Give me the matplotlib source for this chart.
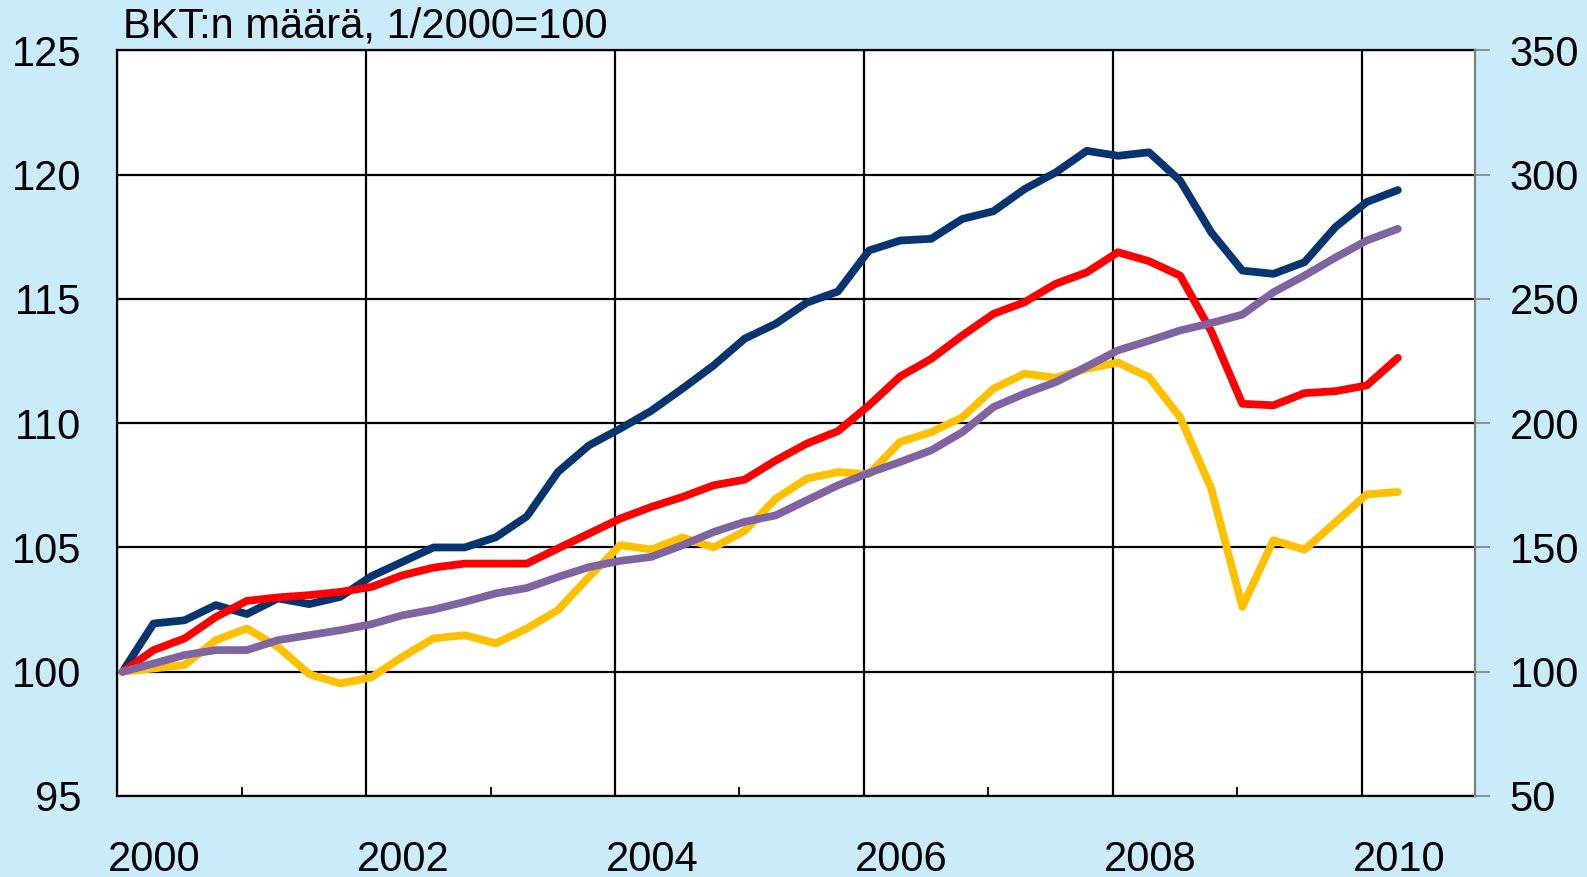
import numpy as np
import matplotlib.pyplot as plt

plt.rcParams["font.family"] = ["Liberation Sans", "DejaVu Sans"]

# quarterly GDP volume index, 1/2000 = 100 (2000Q1 .. 2010Q2)
BLUE = [100.0, 101.94, 102.07, 102.68, 102.32, 102.95, 102.72, 103.01, 103.84, 104.42,
        105.0, 105.0, 105.41, 106.25, 108.04, 109.11, 109.78, 110.5, 111.39, 112.32,
        113.4, 114.0, 114.85, 115.3, 116.95, 117.35, 117.42, 118.22, 118.53, 119.42,
        120.09, 120.96, 120.76, 120.9, 119.76, 117.68, 116.14, 116.01, 116.48, 117.9,
        118.9, 119.38]
RED = [100.0, 100.87, 101.34, 102.2, 102.85, 102.99, 103.08, 103.21, 103.41, 103.88,
       104.19, 104.35, 104.35, 104.35, 104.96, 105.56, 106.16, 106.63, 107.03, 107.5,
       107.73, 108.5, 109.18, 109.68, 110.72, 111.88, 112.59, 113.53, 114.4, 114.87,
       115.61, 116.07, 116.88, 116.52, 115.94, 113.7, 110.78, 110.72, 111.21, 111.29,
       111.52, 112.63]
YELLOW = [100.0, 100.13, 100.27, 101.27, 101.74, 101.0, 99.9, 99.53, 99.77, 100.6,
          101.34, 101.47, 101.14, 101.74, 102.48, 103.82, 105.09, 104.92, 105.4, 105.0,
          105.66, 106.96, 107.77, 108.03, 107.95, 109.25, 109.64, 110.24, 111.39, 111.99,
          111.83, 112.19, 112.44, 111.85, 110.24, 107.37, 102.61, 105.29, 104.91, 106.02,
          107.14, 107.23]
PURPLE = [100.0, 100.33, 100.67, 100.87, 100.87, 101.27, 101.47, 101.67, 101.91, 102.27,
          102.5, 102.81, 103.15, 103.37, 103.81, 104.21, 104.46, 104.62, 105.09, 105.62,
          106.03, 106.29, 106.9, 107.5, 108.0, 108.44, 108.91, 109.64, 110.65, 111.19,
          111.65, 112.28, 112.93, 113.32, 113.73, 114.03, 114.37, 115.27, 115.94, 116.67,
          117.35, 117.82]
YEAR_LABELS = ["2000", "2002", "2004", "2006", "2008", "2010"]
TITLE = "BKT:n määrä, 1/2000=100"

BG = "#c9ebfa"
FS = 30

t = 2000 + np.arange(len(BLUE)) / 4 + 1 / 24  # mid first month of each quarter

fig = plt.figure(figsize=(15.87, 8.77), dpi=100, facecolor=BG)

ax = fig.add_axes([0.0739, 0.0924, 0.8554, 0.8501])
ax.set_facecolor("white")
for ser, col in [(BLUE, "#063570"), (RED, "#ff0000"), (YELLOW, "#ffc000"), (PURPLE, "#8064a2")]:
    ax.plot(t, ser, color=col, lw=5.6, solid_capstyle="round", solid_joinstyle="round", zorder=3)

ax.set_xlim(2000, 2010.91)
ax.set_ylim(95, 125)
ax.set_yticks(np.arange(95, 126, 5))
ax.set_xticks(np.arange(2000, 2011, 2))
ax.set_xticks(np.arange(2001, 2011, 2), minor=True)
ax.grid(True, which="major", color="black", lw=1.6)
ax.tick_params(axis="x", which="major", length=0, labelbottom=False)
ax.tick_params(axis="x", which="minor", direction="in", length=6.5, width=1.3, color="black")
ax.tick_params(axis="y", length=0, pad=26, labelsize=FS)
for s in ["left", "bottom", "top"]:
    ax.spines[s].set_color("black")
    ax.spines[s].set_linewidth(1.6)
ax.spines["right"].set_visible(False)

sec = ax.secondary_xaxis("bottom")
sec.set_xticks([int(y) + 0.3 for y in YEAR_LABELS], labels=YEAR_LABELS)
sec.tick_params(length=0, pad=32, labelsize=FS)
sec.spines["bottom"].set_visible(False)

ax2 = ax.twinx()
ax2.set_ylim(50, 350)
ax2.set_yticks(np.arange(50, 351, 50))
ax2.tick_params(axis="y", direction="out", length=11, width=1.2, color="#808080", pad=14, labelsize=FS)
ax2.spines["right"].set_color("#808080")
ax2.spines["right"].set_linewidth(1.6)
for s in ["left", "bottom", "top"]:
    ax2.spines[s].set_visible(False)

ax.text(0.004, 1.005, TITLE, transform=ax.transAxes, fontsize=FS, ha="left", va="bottom")

fig.savefig("out.png", dpi=100, facecolor=BG)
